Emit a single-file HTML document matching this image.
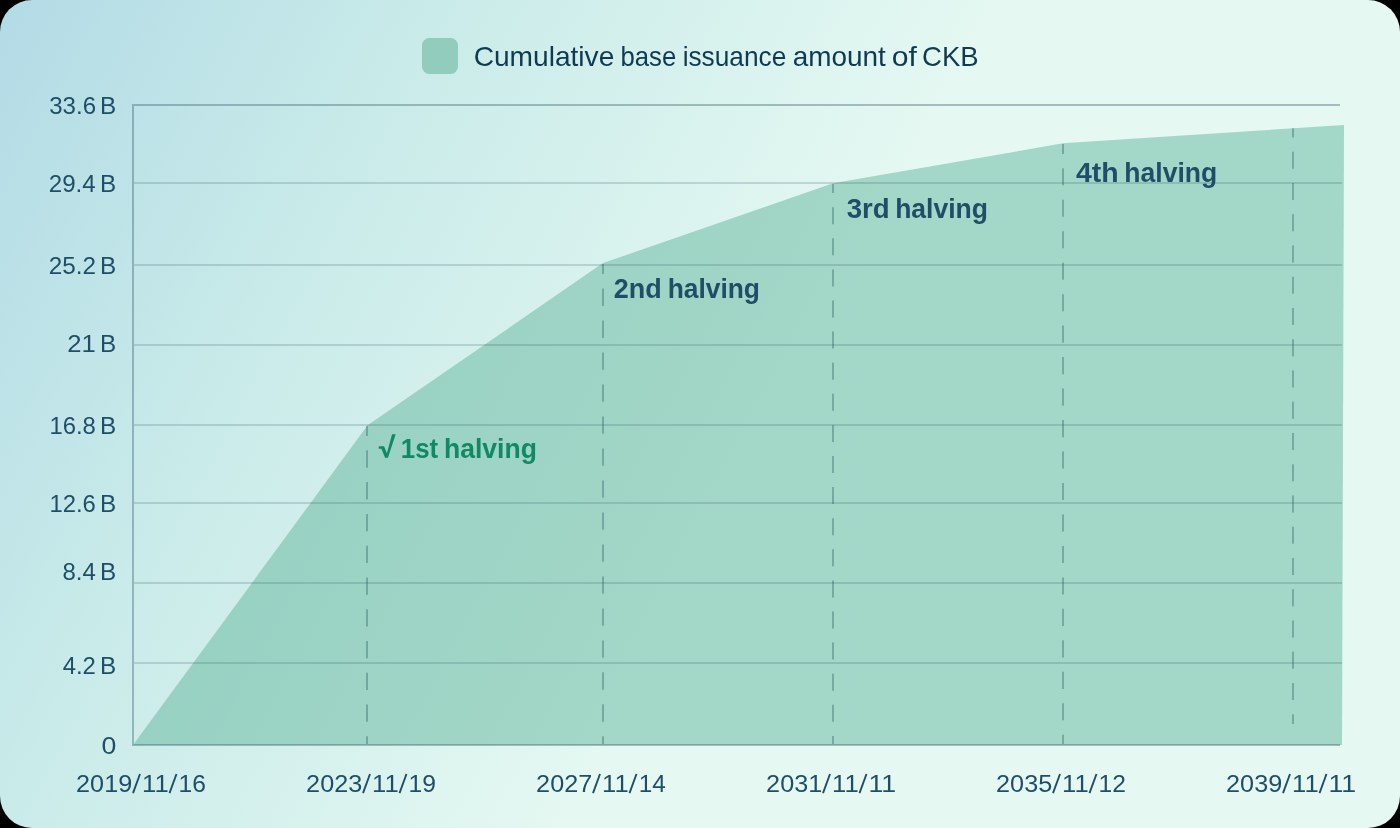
<!DOCTYPE html>
<html lang="en">
<head>
<meta charset="utf-8">
<title>Cumulative base issuance amount of CKB</title>
<style>
  html, body { margin: 0; padding: 0; background: #000; }
  body { width: 1400px; height: 828px; overflow: hidden; font-family: "Liberation Sans", sans-serif; }
  #card {
    position: absolute; left: 0; top: 0; width: 1400px; height: 828px;
    border-radius: 32px; overflow: hidden;
    background: linear-gradient(118deg, #b3dbe6 0%, #c9ebe9 24%, #e5f8f2 54.5%, #e5f8f2 100%);
  }
  svg { position: absolute; left: 0; top: 0; display: block; will-change: transform; }
  text { font-family: "Liberation Sans", sans-serif; }
  .ax { fill: #1f4e68; font-size: 24px; }
  .hv { fill: #1f4e68; font-size: 28px; font-weight: bold; }
</style>
</head>
<body>
<div id="card">
<svg width="1400" height="828" viewBox="0 0 1400 828">
  <!-- legend -->
  <rect x="422" y="38" width="36" height="36" rx="7.5" ry="7.5" fill="#91ccbd"/>

  <!-- area -->
  <polygon points="133,745 367.6,425.3 603,263.1 833,183.3 1063,143.3 1344,125 1342,745" fill="#61b69c" fill-opacity="0.5"/>

  <!-- grid lines -->
  <g stroke="#2d5a64" stroke-opacity="0.2" stroke-width="2" fill="none">
    <line x1="134" y1="183" x2="1342" y2="183"/>
    <line x1="134" y1="265" x2="1342" y2="265"/>
    <line x1="134" y1="345" x2="1342" y2="345"/>
    <line x1="134" y1="425" x2="1342" y2="425"/>
    <line x1="134" y1="503" x2="1342" y2="503"/>
    <line x1="134" y1="583" x2="1342" y2="583"/>
    <line x1="134" y1="663" x2="1342" y2="663"/>
  </g>
  <g stroke="#2d5569" stroke-opacity="0.36" stroke-width="2" fill="none">
    <polyline points="1340,105 133,105 133,745 1340,745"/>
  </g>

  <!-- halving dashed lines -->
  <g stroke="#286064" stroke-opacity="0.38" stroke-width="2" fill="none">
    <line x1="367" y1="426" x2="367" y2="744" stroke-dasharray="17.3 14.46" stroke-dashoffset="7.4"/>
    <line x1="603" y1="264" x2="603" y2="744" stroke-dasharray="17.4 14.59" stroke-dashoffset="7.5"/>
    <line x1="833" y1="184" x2="833" y2="744" stroke-dasharray="17.0 14.1" stroke-dashoffset="7.9"/>
    <line x1="1063" y1="144" x2="1063" y2="744" stroke-dasharray="17.1 14.37" stroke-dashoffset="7.2"/>
    <line x1="1293" y1="128.3" x2="1293" y2="723.9" stroke-dasharray="17.1 14.15" stroke-dashoffset="7.8"/>
  </g>

  <!-- halving labels -->
  <polygon fill="#0f8a62" points="378.76,446.36 384.08,446.36 386.9,453.2 392.05,434.18 395.67,434.18 387.94,457.71 385.04,457.71 381.42,448.87 378.76,448.87"/>


  <!-- text (each word fitted to measured extents) -->
  <text x="473.63" y="65.8" font-size="28.5" font-weight="normal" fill="#0e3a52" textLength="140.70" lengthAdjust="spacingAndGlyphs">Cumulative</text>
  <text x="620.47" y="65.8" font-size="28.5" font-weight="normal" fill="#0e3a52" textLength="55.80" lengthAdjust="spacingAndGlyphs">base</text>
  <text x="682.65" y="65.8" font-size="28.5" font-weight="normal" fill="#0e3a52" textLength="103.69" lengthAdjust="spacingAndGlyphs">issuance</text>
  <text x="792.75" y="65.8" font-size="28.5" font-weight="normal" fill="#0e3a52" textLength="93.13" lengthAdjust="spacingAndGlyphs">amount</text>
  <text x="891.65" y="65.8" font-size="28.5" font-weight="normal" fill="#0e3a52" textLength="25.15" lengthAdjust="spacingAndGlyphs">of</text>
  <text x="922.02" y="65.8" font-size="28.5" font-weight="normal" fill="#0e3a52" textLength="56.60" lengthAdjust="spacingAndGlyphs">CKB</text>
  <text x="49.25" y="114" font-size="24" font-weight="normal" fill="#1f4e68" textLength="46.79" lengthAdjust="spacingAndGlyphs">33.6</text>
  <text x="100.00" y="114" font-size="24" font-weight="normal" fill="#1f4e68" textLength="16.22" lengthAdjust="spacingAndGlyphs">B</text>
  <text x="48.78" y="191.8" font-size="24" font-weight="normal" fill="#1f4e68" textLength="46.93" lengthAdjust="spacingAndGlyphs">29.4</text>
  <text x="100.00" y="191.8" font-size="24" font-weight="normal" fill="#1f4e68" textLength="16.22" lengthAdjust="spacingAndGlyphs">B</text>
  <text x="48.77" y="273.7" font-size="24" font-weight="normal" fill="#1f4e68" textLength="47.28" lengthAdjust="spacingAndGlyphs">25.2</text>
  <text x="100.00" y="273.7" font-size="24" font-weight="normal" fill="#1f4e68" textLength="16.22" lengthAdjust="spacingAndGlyphs">B</text>
  <text x="67.33" y="351.8" font-size="24" font-weight="normal" fill="#1f4e68" textLength="28.55" lengthAdjust="spacingAndGlyphs">21</text>
  <text x="100.00" y="351.8" font-size="24" font-weight="normal" fill="#1f4e68" textLength="16.22" lengthAdjust="spacingAndGlyphs">B</text>
  <text x="49.42" y="433.7" font-size="24" font-weight="normal" fill="#1f4e68" textLength="46.44" lengthAdjust="spacingAndGlyphs">16.8</text>
  <text x="100.00" y="433.7" font-size="24" font-weight="normal" fill="#1f4e68" textLength="16.22" lengthAdjust="spacingAndGlyphs">B</text>
  <text x="49.42" y="511.8" font-size="24" font-weight="normal" fill="#1f4e68" textLength="46.44" lengthAdjust="spacingAndGlyphs">12.6</text>
  <text x="100.00" y="511.8" font-size="24" font-weight="normal" fill="#1f4e68" textLength="16.22" lengthAdjust="spacingAndGlyphs">B</text>
  <text x="62.38" y="579.6" font-size="24" font-weight="normal" fill="#1f4e68" textLength="33.35" lengthAdjust="spacingAndGlyphs">8.4</text>
  <text x="100.00" y="579.6" font-size="24" font-weight="normal" fill="#1f4e68" textLength="16.22" lengthAdjust="spacingAndGlyphs">B</text>
  <text x="62.70" y="673.7" font-size="24" font-weight="normal" fill="#1f4e68" textLength="33.20" lengthAdjust="spacingAndGlyphs">4.2</text>
  <text x="100.00" y="673.7" font-size="24" font-weight="normal" fill="#1f4e68" textLength="16.22" lengthAdjust="spacingAndGlyphs">B</text>
  <text x="101.47" y="753.7" font-size="24" font-weight="normal" fill="#1f4e68" textLength="14.84" lengthAdjust="spacingAndGlyphs">0</text>
  <text x="76.12" y="792" font-size="24" font-weight="normal" fill="#1f4e68" textLength="56.06" lengthAdjust="spacingAndGlyphs">2019</text>
  <text x="142.12" y="792" font-size="24" font-weight="normal" fill="#1f4e68" textLength="26.61" lengthAdjust="spacingAndGlyphs">11</text>
  <text x="178.63" y="792" font-size="24" font-weight="normal" fill="#1f4e68" textLength="27.41" lengthAdjust="spacingAndGlyphs">16</text>
  <text x="306.13" y="792" font-size="24" font-weight="normal" fill="#1f4e68" textLength="56.06" lengthAdjust="spacingAndGlyphs">2023</text>
  <text x="372.12" y="792" font-size="24" font-weight="normal" fill="#1f4e68" textLength="26.61" lengthAdjust="spacingAndGlyphs">11</text>
  <text x="408.62" y="792" font-size="24" font-weight="normal" fill="#1f4e68" textLength="27.41" lengthAdjust="spacingAndGlyphs">19</text>
  <text x="536.13" y="792" font-size="24" font-weight="normal" fill="#1f4e68" textLength="56.06" lengthAdjust="spacingAndGlyphs">2027</text>
  <text x="602.12" y="792" font-size="24" font-weight="normal" fill="#1f4e68" textLength="26.61" lengthAdjust="spacingAndGlyphs">11</text>
  <text x="638.75" y="792" font-size="24" font-weight="normal" fill="#1f4e68" textLength="27.07" lengthAdjust="spacingAndGlyphs">14</text>
  <text x="766.13" y="792" font-size="24" font-weight="normal" fill="#1f4e68" textLength="56.06" lengthAdjust="spacingAndGlyphs">2031</text>
  <text x="832.12" y="792" font-size="24" font-weight="normal" fill="#1f4e68" textLength="26.61" lengthAdjust="spacingAndGlyphs">11</text>
  <text x="868.50" y="792" font-size="24" font-weight="normal" fill="#1f4e68" textLength="27.73" lengthAdjust="spacingAndGlyphs">11</text>
  <text x="996.12" y="792" font-size="24" font-weight="normal" fill="#1f4e68" textLength="56.05" lengthAdjust="spacingAndGlyphs">2035</text>
  <text x="1062.12" y="792" font-size="24" font-weight="normal" fill="#1f4e68" textLength="26.61" lengthAdjust="spacingAndGlyphs">11</text>
  <text x="1098.63" y="792" font-size="24" font-weight="normal" fill="#1f4e68" textLength="27.41" lengthAdjust="spacingAndGlyphs">12</text>
  <text x="1226.12" y="792" font-size="24" font-weight="normal" fill="#1f4e68" textLength="56.06" lengthAdjust="spacingAndGlyphs">2039</text>
  <text x="1292.12" y="792" font-size="24" font-weight="normal" fill="#1f4e68" textLength="26.61" lengthAdjust="spacingAndGlyphs">11</text>
  <text x="1328.50" y="792" font-size="24" font-weight="normal" fill="#1f4e68" textLength="27.73" lengthAdjust="spacingAndGlyphs">11</text>
  <text x="400.80" y="457.8" font-size="28" font-weight="bold" fill="#0f8a62" textLength="37.41" lengthAdjust="spacingAndGlyphs">1st</text>
  <text x="444.05" y="457.8" font-size="28" font-weight="bold" fill="#0f8a62" textLength="92.84" lengthAdjust="spacingAndGlyphs">halving</text>
  <text x="613.70" y="297.8" font-size="28" font-weight="bold" fill="#1f4e68" textLength="47.95" lengthAdjust="spacingAndGlyphs">2nd</text>
  <text x="667.65" y="297.8" font-size="28" font-weight="bold" fill="#1f4e68" textLength="92.34" lengthAdjust="spacingAndGlyphs">halving</text>
  <text x="846.67" y="217.8" font-size="28" font-weight="bold" fill="#1f4e68" textLength="42.99" lengthAdjust="spacingAndGlyphs">3rd</text>
  <text x="895.15" y="217.8" font-size="28" font-weight="bold" fill="#1f4e68" textLength="92.75" lengthAdjust="spacingAndGlyphs">halving</text>
  <text x="1076.00" y="182.1" font-size="28" font-weight="bold" fill="#1f4e68" textLength="42.71" lengthAdjust="spacingAndGlyphs">4th</text>
  <text x="1124.35" y="182.1" font-size="28" font-weight="bold" fill="#1f4e68" textLength="92.85" lengthAdjust="spacingAndGlyphs">halving</text>
  <line x1="133.0" y1="793.2" x2="140.0" y2="774" stroke="#1f4e68" stroke-width="1.9"/>
  <line x1="169.5" y1="793.2" x2="176.5" y2="774" stroke="#1f4e68" stroke-width="1.9"/>
  <line x1="363.0" y1="793.2" x2="370.0" y2="774" stroke="#1f4e68" stroke-width="1.9"/>
  <line x1="399.5" y1="793.2" x2="406.5" y2="774" stroke="#1f4e68" stroke-width="1.9"/>
  <line x1="593.0" y1="793.2" x2="600.0" y2="774" stroke="#1f4e68" stroke-width="1.9"/>
  <line x1="629.5" y1="793.2" x2="636.5" y2="774" stroke="#1f4e68" stroke-width="1.9"/>
  <line x1="823.0" y1="793.2" x2="830.0" y2="774" stroke="#1f4e68" stroke-width="1.9"/>
  <line x1="859.5" y1="793.2" x2="866.5" y2="774" stroke="#1f4e68" stroke-width="1.9"/>
  <line x1="1053.0" y1="793.2" x2="1060.0" y2="774" stroke="#1f4e68" stroke-width="1.9"/>
  <line x1="1089.5" y1="793.2" x2="1096.5" y2="774" stroke="#1f4e68" stroke-width="1.9"/>
  <line x1="1283.0" y1="793.2" x2="1290.0" y2="774" stroke="#1f4e68" stroke-width="1.9"/>
  <line x1="1319.5" y1="793.2" x2="1326.5" y2="774" stroke="#1f4e68" stroke-width="1.9"/>
</svg>
</div>
</body>
</html>
